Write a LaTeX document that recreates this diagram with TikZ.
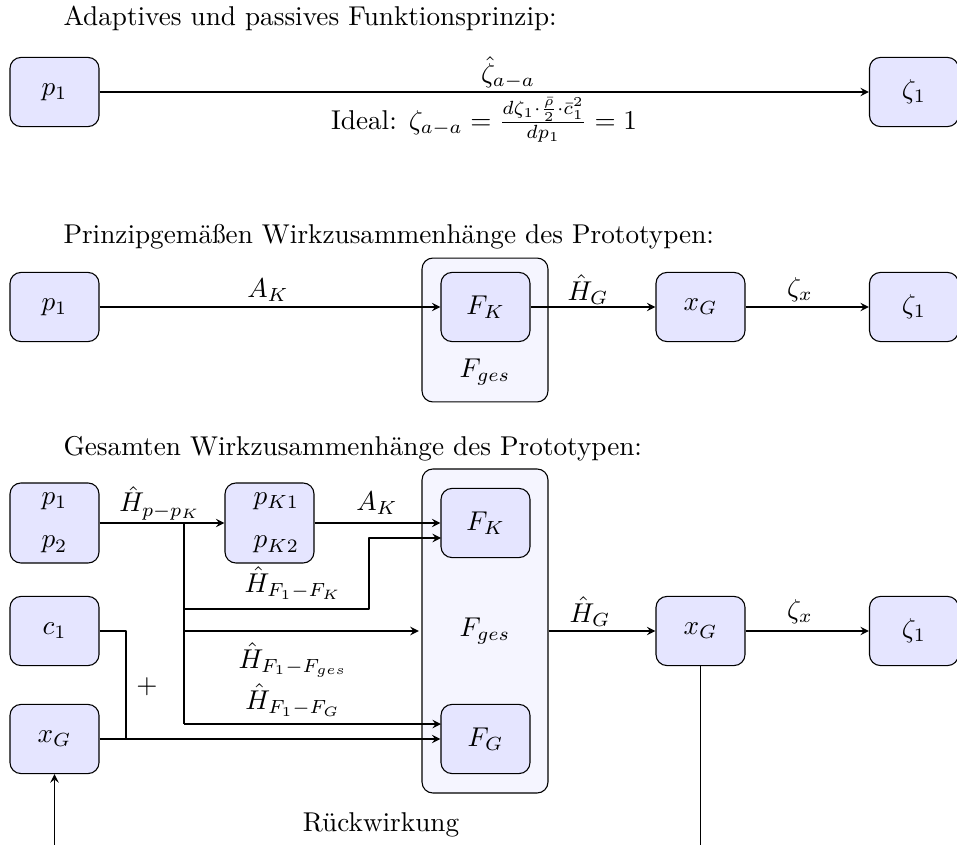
\documentclass[tikz,border=0pt]{standalone}
\usepackage{amsmath}

\begin{document}
\begin{tikzpicture}[x=0.3676pt, y=-0.3676pt, >=stealth, line join=round,
    block/.style={draw, rounded corners=4pt, fill=blue!10, minimum width=32.7pt, minimum height=25.4pt, inner sep=2pt},
    gesbox/.style={draw, rounded corners=4pt, fill=blue!4, minimum width=46.3pt, inner sep=0pt},
    titel/.style={anchor=base west, inner sep=0pt}]
    \useasboundingbox (0,0) rectangle (957,845);

    % Ueberschriften
    \node[titel] (t1) at (63,26) {Adaptives und passives Funktionsprinzip:};
    \node[titel] (t2) at (63,244) {Prinzipgemäßen Wirkzusammenhänge des Prototypen:};
    \node[titel] (t3) at (63,455) {Gesamten Wirkzusammenhänge des Prototypen:};

    % Teil 1
    \node[block] (p1a) at (54.5,92) {$p_1$};
    \node[block] (z1a) at (914,92) {$\zeta_1$};
    \draw[->] (p1a) -- (z1a);
    \node (lza) at (508,73) {$\hat{\zeta}_{a-a}$};
    \node (ideal) at (484,120) {Ideal: $\zeta_{a-a}=\frac{d\zeta_1\cdot\frac{\bar{\rho}}{2}\cdot\bar{c}_1^2}{dp_1}=1$};

    % Teil 2
    \node[gesbox, minimum height=52.9pt] (fga) at (485,330) {};
    \node[block] (fka) at (485.5,307) {$F_K$};
    \node (lfga) at (485,372) {$F_{ges}$};
    \node[block] (p1b) at (54.5,307) {$p_1$};
    \node[block] (xga) at (700.5,307) {$x_G$};
    \node[block] (z1b) at (914,307) {$\zeta_1$};
    \draw[->] (p1b) -- (fka);
    \draw[->] (fka) -- (xga);
    \draw[->] (xga) -- (z1b);
    \node (lakb) at (268,290) {$A_K$};
    \node (lhgb) at (588,290) {$\hat{H}_G$};
    \node (lzxb) at (800,290) {$\zeta_x$};

    % Teil 3
    \node[gesbox, minimum height=119.1pt] (fgb) at (485,631) {$F_{ges}$};
    \node[block] (fkb) at (485.5,523) {$F_K$};
    \node[block] (fgg) at (485.5,739) {$F_G$};
    \node[block, minimum height=29.4pt, align=center] (p12) at (54.5,523) {$p_1$\\[4pt]$p_2$};
    \node[block, minimum height=29.4pt, inner xsep=5.5pt, text width=21.7pt, align=right] (pk) at (269.5,523) {$p_{K1}$\\[4pt]$p_{K2}$};
    \node[block] (c1) at (54.5,631) {$c_1$};
    \node[block] (xgl) at (54.5,739) {$x_G$};
    \node[block] (xgr) at (700.5,631) {$x_G$};
    \node[block] (z1c) at (914,631) {$\zeta_1$};

    \coordinate (br) at (184,523);
    \coordinate (brend) at (184,724);
    \coordinate (kn) at (369,609);
    \coordinate (fkl) at (441,538);
    \coordinate (fgl) at (441,724);
    \coordinate (cn) at (126,631);
    \coordinate (rueck) at (700.5,845);
    \coordinate (rueckl) at (54.5,845);

    \draw[->] (p12) -- (pk);
    \draw (br) -- (brend);
    \draw[->] (br |- kn) -- (kn) -- (kn |- fkl) -- (fkl);
    \draw[->, shorten >=1pt] (br |- fgb) -- (fgb.west);
    \draw[->] (brend) -- (fgl);
    \draw[->] (pk) -- (fkb);
    \draw (c1) -- (cn) -- (cn |- xgl);
    \draw[->] (xgl) -- (fgg);
    \draw[->] (fgb) -- (xgr);
    \draw[->] (xgr) -- (z1c);
    \draw (xgr) -- (rueck);
    \draw[->] (rueckl) -- (xgl);

    \node (lhp) at (160,503) {$\hat{H}_{p-p_K}$};
    \node (lakc) at (377,503) {$A_K$};
    \node (lhfk) at (293,583) {$\hat{H}_{F_1-F_K}$};
    \node (lhfges) at (293,660) {$\hat{H}_{F_1-F_{ges}}$};
    \node (lhfg) at (293,700) {$\hat{H}_{F_1-F_G}$};
    \node (plus) at (147,687) {$+$};
    \node (lhgc) at (590,612) {$\hat{H}_G$};
    \node (lzxc) at (800,612) {$\zeta_x$};
    \node (rw) at (381,825) {Rückwirkung};
\end{tikzpicture}
\end{document}
